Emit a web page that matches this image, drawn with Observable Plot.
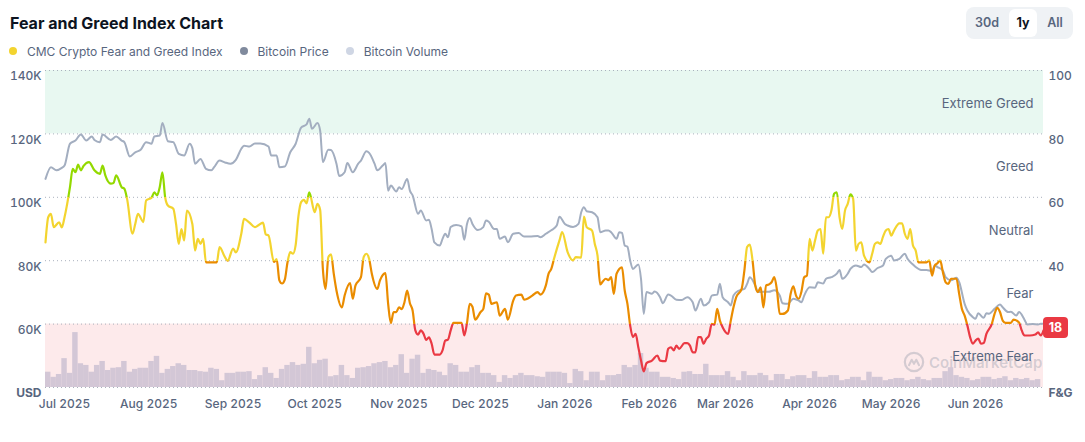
<!DOCTYPE html>
<html>
<head>
<meta charset="utf-8">
<script src="https://cdn.jsdelivr.net/npm/d3@7"></script>
<script src="https://cdn.jsdelivr.net/npm/@observablehq/plot@0.6"></script>
<style>
  html, body { margin: 0; padding: 0; background: #ffffff; }
  #root { position: relative; width: 1085px; height: 442px; font-family: Inter, "Noto Sans", sans-serif; overflow: hidden; }
  .title { position: absolute; left: 10px; top: 14px; font-size: 16px; line-height: 18px; font-weight: 700; color: #0d1421; }
  .btns { position: absolute; left: 966px; top: 7px; width: 107px; height: 32px; background: #eff2f5; border-radius: 8px; }
  .btn { position: absolute; top: 2px; height: 28px; line-height: 28px; font-size: 12.5px; font-weight: 600; color: #58667e; text-align: center; }
  .btn.sel { background: #ffffff; color: #0d1421; font-weight: 700; border-radius: 6px; }
  .legend { position: absolute; left: 9px; top: 43px; height: 16px; display: flex; align-items: center; font-size: 12px; color: #58667e; }
  .legend .item { display: flex; align-items: center; margin-right: 17px; }
  .legend .dot { width: 8px; height: 8px; border-radius: 50%; margin-right: 10px; }
  #chart { position: absolute; left: 0; top: 60px; width: 1085px; height: 370px; }
  #chart > svg { position: absolute; left: 0; top: 0; }
  #chart > div.wm { position: absolute; left: 903px; top: 291px; display: flex; align-items: center; font-size: 15px; font-weight: 600; color: rgba(128,138,157,0.32); }
</style>
</head>
<body>
<div id="root">
  <div class="title">Fear and Greed Index Chart</div>
  <div class="btns">
    <div class="btn" style="left:6px;width:30px;">30d</div>
    <div class="btn sel" style="left:43px;width:28px;">1y</div>
    <div class="btn" style="left:75px;width:28px;">All</div>
  </div>
  <div class="legend" id="legend"></div>
  <div id="chart"></div>
</div>
<script>
// ---------------- DATA ----------------
const startDay = "2025-06-24";   // day 0 of the series
const endDayIndex = 367;

// Bitcoin price: [day index, price in thousands USD]
const bitcoinPrice = [
[0,105.8],[2,109.5],[4,108.5],[6,109.3],[7,110],[9,116.9],[11,117.9],[13,119.8],[15,117.9],[17,119.2],
[18,118.1],[20,117.4],[21,119.8],[24,118.1],[26,119.2],[28,117.9],[29,117.4],[31,112.9],[33,114.2],[35,115],
[37,117.4],[39,116.9],[40,119.2],[42,119.5],[43,123.4],[45,117.7],[47,117.4],[49,113.7],[51,113.2],[53,116.9],
[54,115.5],[55,110.6],[57,112.1],[59,109],[61,108.5],[62,109.5],[64,111.6],[66,111],[68,110.6],[70,111.8],
[72,115.3],[73,116.3],[75,116],[77,117],[79,117],[82,116],[83,113.2],[85,113.2],[86,109.5],[88,109.7],
[90,114.2],[92,116.9],[94,122],[96,123],[97,124.8],[98,121.6],[100,123.4],[101,121],[102,111.1],[104,115],
[105,114.9],[107,110.6],[108,106.7],[110,107.9],[111,110.8],[113,107.9],[115,110.6],[116,111.6],[118,114.5],[119,114],
[121,110.6],[122,108.5],[124,110],[125,110.8],[126,102.1],[127,103.7],[129,101.8],[130,103.2],[131,102.6],[133,105.8],
[134,102.1],[135,100.6],[137,94.8],[138,95.8],[140,92.7],[141,92.9],[142,90],[143,85.8],[145,84.8],[146,86.9],
[147,88.5],[148,87.4],[149,90.6],[151,91.3],[153,90.8],[154,86.6],[155,91.6],[156,93.5],[157,91.6],[159,89.7],
[161,90.6],[162,92.7],[163,92.3],[165,90],[166,90],[167,86.9],[169,87.6],[170,85.8],[172,88.5],[174,88.7],
[176,87.6],[178,87.6],[181,87.8],[182,87.4],[184,88.5],[186,89.6],[188,91.1],[189,93.9],[191,91.6],[192,91.1],
[194,90.6],[196,91.6],[197,95.3],[198,96.9],[199,95.6],[201,95.3],[203,93.7],[204,89],[206,89.5],[207,89.5],
[208,89],[210,86.9],[211,89],[212,88.8],[213,84.8],[214,84.4],[215,80.1],[216,77.4],[218,78.8],[219,74.2],
[220,63.2],[221,70.1],[223,69.6],[224,70.3],[226,68.5],[227,66.6],[229,69.3],[230,69],[232,67.7],[234,67.6],
[236,68.5],[238,66.9],[239,64.3],[241,68],[242,65.9],[244,66.9],[245,69],[247,69.3],[248,72.7],[249,68.5],
[251,66.9],[252,65.9],[253,69],[255,70.6],[257,71.1],[258,72.7],[259,74.8],[261,72.2],[262,70.1],[264,70.2],
[266,70.2],[268,70.7],[270,69],[271,66.6],[273,66.4],[275,68],[277,67.4],[278,66.9],[279,69],[281,71.6],
[283,71.5],[284,73.2],[286,72.8],[287,74.3],[289,74.8],[291,75.9],[292,77.1],[293,74.3],[295,75.9],[296,77.4],
[298,78.5],[300,78],[301,78.8],[303,77.4],[304,76.4],[306,77.7],[308,78.5],[309,80.6],[311,81.6],[312,80.1],
[314,80.6],[316,82.2],[317,80.6],[319,78.8],[320,78],[322,77.1],[324,77.1],[326,76.7],[327,78.5],[328,78],
[330,76.9],[331,74.8],[333,73.8],[335,74.6],[336,73.2],[338,66.4],[339,64.3],[341,62.2],[342,61.7],[343,63.4],
[345,62],[346,63.4],[347,63.3],[349,64.8],[351,66.2],[352,65.3],[354,63.8],[355,63.9],[357,62.7],[358,63.8],
[360,61.4],[361,59.9],[363,60],[365,59.9],[366,60.1],[367,60.1]
];

// CMC Crypto Fear and Greed Index: [day index, value 0-100]
const fearGreed = [
[0,45.8],[1,53.7],[2,54.8],[3,50.6],[5,52.1],[6,50.5],[7,53.7],[9,63.2],[10,69],[11,67.9],
[12,70.3],[13,68.5],[14,69.9],[16,71.1],[18,68.5],[20,67.4],[21,70],[22,66.9],[24,64.3],[25,64.5],
[26,66.9],[28,63.2],[29,62.7],[30,59.5],[32,48.5],[33,51.6],[34,54.8],[36,52.2],[37,59],[39,59.9],
[40,61.6],[41,60.6],[42,63.2],[43,67.9],[44,60],[45,57.4],[47,56.4],[48,51.6],[49,45.3],[50,50],
[51,46.4],[52,55.8],[54,51.6],[55,43.2],[56,46.9],[57,45.3],[58,46.9],[59,39.5],[61,39.5],[63,39.5],
[64,44.3],[66,41.1],[67,40],[69,43.8],[70,42.6],[72,48.5],[73,53.2],[75,52],[77,50.6],[78,51],
[80,52],[81,48.3],[82,48],[84,39.6],[85,40.5],[86,33.8],[87,32.8],[88,34],[89,39.5],[90,42.7],
[91,42.2],[92,45],[93,54],[94,58.5],[95,59.2],[96,58.1],[97,61.6],[99,55.3],[100,57.9],[101,56],
[102,37.4],[103,31.1],[104,41.1],[105,42],[106,35.9],[107,30.6],[109,25.3],[110,29],[112,32.9],[113,28],
[114,32.2],[116,34.8],[117,41.1],[118,42.2],[119,40.6],[120,35.9],[122,31.1],[123,33.8],[125,36.1],[126,26.4],
[127,20.3],[128,23.8],[129,23.8],[130,25.3],[131,24.7],[132,26.9],[133,30.6],[134,26.6],[135,24.3],[136,18],
[137,16.7],[138,18],[139,17],[140,15],[141,15.8],[142,13.8],[143,10.4],[145,10.4],[146,11.7],[147,14.8],
[148,15.1],[149,18],[150,20.4],[152,20.4],[153,20.4],[154,16.4],[155,20.4],[156,26.4],[157,25.5],[158,21.4],
[160,23.8],[161,24.8],[162,29.7],[163,29.3],[164,26.4],[166,26.9],[167,22.7],[169,24.8],[170,21.4],[172,27.4],
[173,29],[175,29.3],[176,27.7],[177,27.9],[179,29],[181,30.1],[182,29.3],[184,32.2],[185,35.9],[186,37.4],
[187,40.6],[189,46.4],[190,49],[192,42.7],[194,40.1],[195,41.1],[197,41],[198,53.9],[199,50.6],[201,49.5],
[202,45.3],[203,41.6],[204,32.5],[205,33.5],[206,34.3],[207,33.9],[208,34.8],[209,29.5],[210,35.9],[212,37.9],
[213,30.6],[214,26.4],[215,19.6],[216,15.9],[217,16.9],[218,12.7],[219,8.5],[220,5.1],[221,7.7],[223,8.5],
[225,10.1],[226,8.5],[228,8.3],[229,12.2],[230,12.7],[231,11.7],[232,13.2],[233,12.2],[235,14],[236,14],
[237,13.2],[238,11.1],[239,11.1],[240,15.9],[241,15.9],[242,13.8],[243,15.4],[244,16.4],[245,20.1],[246,19.8],
[247,24.8],[248,21.1],[249,19],[251,16.9],[252,21.1],[253,25.3],[254,28.5],[256,31.1],[257,36.9],[258,44.3],
[259,45.1],[260,40.1],[261,32.2],[262,30.1],[263,31.6],[264,25.3],[265,32.2],[266,32.5],[267,33.2],[268,34.8],
[269,30.6],[270,23.2],[271,23.2],[273,24.3],[274,29.5],[275,31.9],[276,29],[277,28],[278,30.3],[279,34.8],
[280,35.3],[281,46.9],[282,43.2],[283,46.4],[284,49.5],[285,50],[286,42.2],[287,53.7],[288,53.7],[289,55.8],
[290,61.1],[291,61.6],[292,53.7],[293,50],[294,55.8],[295,57.9],[296,60.9],[297,59.5],[298,43.2],[299,45.3],
[300,45.8],[301,41.6],[303,39.5],[304,42.2],[305,45.3],[306,45.8],[307,45.3],[308,47.6],[309,49.5],[310,50],
[311,47.9],[312,49.5],[314,51.8],[315,51.8],[316,48.5],[317,46.9],[318,50],[319,44.8],[320,43.2],[321,39.5],
[322,39.5],[324,39.5],[325,40.1],[326,35.3],[327,38.5],[328,39.2],[329,40.1],[330,36.4],[331,33.2],[332,32.7],
[333,34.3],[335,34.3],[336,29.5],[337,24.8],[338,22.7],[339,19.6],[340,15.9],[341,13.8],[342,14.8],[343,15.4],
[344,13.8],[345,14],[346,16.9],[348,20.1],[349,23.2],[350,25.1],[351,23.8],[352,21.1],[353,20.4],[355,20.4],
[356,21.4],[358,20.5],[359,18],[360,16.4],[362,16.4],[364,16.7],[365,17.4],[366,16.4],[367,18]
];

// Bitcoin volume in billions USD, one value per two-day bin starting at day 0
const bitcoinVolume = [
27,18,23,51,25,97,42,39,27,39, 46,30,34,35,46,27,32,34,34,46,
55,25,32,37,42,39,30,30,28,27, 34,32,12,25,25,27,27,28,14,21,
35,25,16,32,39,44,39,41,71,42, 48,50,19,21,39,21,16,34,35,37,
42,44,46,35,39,58,25,50,57,25, 32,30,27,21,42,39,27,27,35,39,
25,25,21,9,21,16,21,25,21,21, 19,18,27,27,27,25,7,32,28,12,
27,27,12,21,21,23,39,35,39,60, 34,27,27,18,18,16,14,27,28,23,
23,41,21,21,21,28,18,12,28,21, 21,25,21,12,23,23,14,19,21,21,
16,28,18,18,21,21,12,14,18,18, 12,27,18,18,12,14,16,16,12,14,
18,14,12,16,16,28,35,21,18,16, 12,14,18,18,14,16,19,12,16,14,
16,12,14
];
const volumeMax = 560;

// Zones of the index
const zones = [
  {name: "Extreme Greed", lo: 80, hi: 100, mid: 90},
  {name: "Greed",         lo: 60, hi: 80,  mid: 70},
  {name: "Neutral",       lo: 40, hi: 60,  mid: 50},
  {name: "Fear",          lo: 20, hi: 40,  mid: 30},
  {name: "Extreme Fear",  lo: 0,  hi: 20,  mid: 10}
];
const zoneLineColors = ["#16c784", "#93d900", "#f3d42f", "#ea8c00", "#ea3943"];
const greedLineColor = "#93d900";

// Axis ticks
const priceTicks = [40, 60, 80, 100, 120, 140];
const priceTickLabels = ["USD", "60K", "80K", "100K", "120K", "140K"];
const fgTicks = [0, 20, 40, 60, 80, 100];
const fgTickLabels = ["F&G", "20", "40", "60", "80", "100"];
const monthTicks = ["2025-07-01","2025-08-01","2025-09-01","2025-10-01","2025-11-01","2025-12-01",
                    "2026-01-01","2026-02-01","2026-03-01","2026-04-01","2026-05-01","2026-06-01"];

const legendItems = [
  {label: "CMC Crypto Fear and Greed Index", color: "#f3d42f"},
  {label: "Bitcoin Price", color: "#808a9d"},
  {label: "Bitcoin Volume", color: "#cfd6e4"}
];

// ---------------- BUILD ----------------
const DAY = 864e5;
const t0 = new Date(startDay + "T00:00:00Z").getTime();
const toDate = d => new Date(t0 + d * DAY);
const xDomain = [toDate(0), toDate(endDayIndex)];

const priceData = bitcoinPrice.map(([d, v]) => ({date: toDate(d), price: v}));
const fgData = fearGreed.map(([d, v]) => ({date: toDate(d), fg: v}));
const volData = bitcoinVolume.map((v, i) => ({d0: toDate(2 * i), d1: toDate(2 * i + 2), vol: v}));
const last = fearGreed[fearGreed.length - 1];

const W = 1085, H = 370;
const common = {
  width: W, height: H,
  marginTop: 10, marginBottom: 43, marginLeft: 45, marginRight: 42,
  style: {background: "transparent", fontFamily: "Inter, 'Noto Sans', sans-serif", fontSize: "12px", color: "#58667e", overflow: "visible", fontWeight: 500}
};
const xScale = {type: "utc", domain: xDomain};

// legend
const legend = document.getElementById("legend");
for (const it of legendItems) {
  const el = document.createElement("div");
  el.className = "item";
  el.innerHTML = `<span class="dot" style="background:${it.color}"></span><span>${it.label}</span>`;
  legend.appendChild(el);
}

const chart = document.getElementById("chart");

// Layer 1: zone backgrounds, grid, right axis
const layer1 = Plot.plot({
  ...common,
  x: {...xScale, axis: null},
  y: {domain: [0, 100], axis: null},
  marks: [
    Plot.rect([zones[0], zones[4]], {x1: () => xDomain[0], x2: () => xDomain[1], y1: "lo", y2: "hi",
      fill: (d) => d.name === "Extreme Greed" ? "#e8f8f1" : "#fdeaeb"}),
    Plot.ruleY(fgTicks, {stroke: "#a9b1bd", strokeDasharray: "1,3", strokeWidth: 1}),
    Plot.axisY(fgTicks, {anchor: "right", tickSize: 0, tickPadding: 5, dy: 6,
      tickFormat: (d) => fgTickLabels[fgTicks.indexOf(d)], label: null})
  ]
});
chart.appendChild(layer1);

// watermark
const wm = document.createElement("div");
wm.className = "wm";
wm.innerHTML = `<svg width="22" height="22" viewBox="0 0 24 24" style="margin-right:4px"><circle cx="12" cy="12" r="10" fill="none" stroke="rgba(128,138,157,0.32)" stroke-width="2.4"/><path d="M6.5 15.5 L9.5 9.5 L12 14 L14.5 9.5 L17.5 15.5" fill="none" stroke="rgba(128,138,157,0.32)" stroke-width="2.2" stroke-linejoin="round" stroke-linecap="round"/></svg><span>CoinMarketCap</span>`;
chart.appendChild(wm);

// Layer 2: volume
const layer2 = Plot.plot({
  ...common,
  x: {...xScale, axis: null},
  y: {domain: [0, volumeMax], axis: null},
  marks: [
    Plot.rectY(volData, {x1: "d0", x2: "d1", y: "vol", fill: "#d3c7d6"})
  ]
});
chart.appendChild(layer2);

// Layer 3: price line and left / bottom axes
const layer3 = Plot.plot({
  ...common,
  x: {...xScale},
  y: {domain: [40, 140]},
  marks: [
    Plot.axisY(priceTicks, {anchor: "left", tickSize: 0, tickPadding: 4, dy: 6,
      tickFormat: (d) => priceTickLabels[priceTicks.indexOf(d)], label: null}),
    Plot.axisX(monthTicks.map(s => new Date(s + "T00:00:00Z")), {tickSize: 0, tickPadding: 12,
      tickFormat: d3.utcFormat("%b %Y"), label: null}),
    Plot.line(priceData, {x: "date", y: "price", stroke: "#a3aec0", strokeWidth: 2, curve: "monotone-x"})
  ]
});
chart.appendChild(layer3);

// Layer 4: Fear & Greed line, zone labels, current value badge
const gradientMark = (index, scales) => {
  const ns = "http://www.w3.org/2000/svg";
  const defs = document.createElementNS(ns, "defs");
  const lg = document.createElementNS(ns, "linearGradient");
  lg.setAttribute("id", "fgGradient");
  lg.setAttribute("gradientUnits", "userSpaceOnUse");
  lg.setAttribute("x1", 0); lg.setAttribute("x2", 0);
  lg.setAttribute("y1", scales.y(100)); lg.setAttribute("y2", scales.y(0));
  const bands = [
    {hi: 100, lo: 60, c: greedLineColor},
    {hi: 60, lo: 40, c: zoneLineColors[2]},
    {hi: 40, lo: 20, c: zoneLineColors[3]},
    {hi: 20, lo: 0, c: zoneLineColors[4]}
  ];
  for (const b of bands) {
    for (const v of [b.hi, b.lo]) {
      const s = document.createElementNS(ns, "stop");
      s.setAttribute("offset", (100 - v) / 100);
      s.setAttribute("stop-color", b.c);
      lg.appendChild(s);
    }
  }
  defs.appendChild(lg);
  return defs;
};

const badgeMark = (index, scales) => {
  const ns = "http://www.w3.org/2000/svg";
  const g = document.createElementNS(ns, "g");
  const x = scales.x(toDate(last[0]));
  const y = scales.y(last[1]);
  const r = document.createElementNS(ns, "rect");
  r.setAttribute("x", x); r.setAttribute("y", y - 13);
  r.setAttribute("width", 25); r.setAttribute("height", 21);
  r.setAttribute("rx", 4); r.setAttribute("fill", "#ea3943");
  g.appendChild(r);
  const t = document.createElementNS(ns, "text");
  t.setAttribute("x", x + 12.5); t.setAttribute("y", y - 2.5);
  t.setAttribute("text-anchor", "middle");
  t.setAttribute("dominant-baseline", "central");
  t.setAttribute("fill", "#ffffff");
  t.setAttribute("font-weight", "700");
  t.setAttribute("font-size", "12.5");
  t.textContent = String(last[1]);
  g.appendChild(t);
  return g;
};

const layer4 = Plot.plot({
  ...common,
  x: {...xScale, axis: null},
  y: {domain: [0, 100], axis: null},
  marks: [
    gradientMark,
    Plot.text(zones, {frameAnchor: "right", y: "mid", text: "name", dx: -10, dy: 1.5, textAnchor: "end",
      fontSize: 13, fill: "#58667e", fontWeight: 400}),
    Plot.line(fgData, {x: "date", y: "fg", stroke: "url(#fgGradient)", strokeWidth: 2.2, curve: "monotone-x"}),
    badgeMark
  ]
});
chart.appendChild(layer4);

// bold unit labels
for (const svg of [layer1, layer3]) {
  svg.querySelectorAll("text").forEach(t => {
    if (t.textContent === "USD" || t.textContent === "F&G") t.style.fontWeight = "700";
  });
}
</script>
</body>
</html>
